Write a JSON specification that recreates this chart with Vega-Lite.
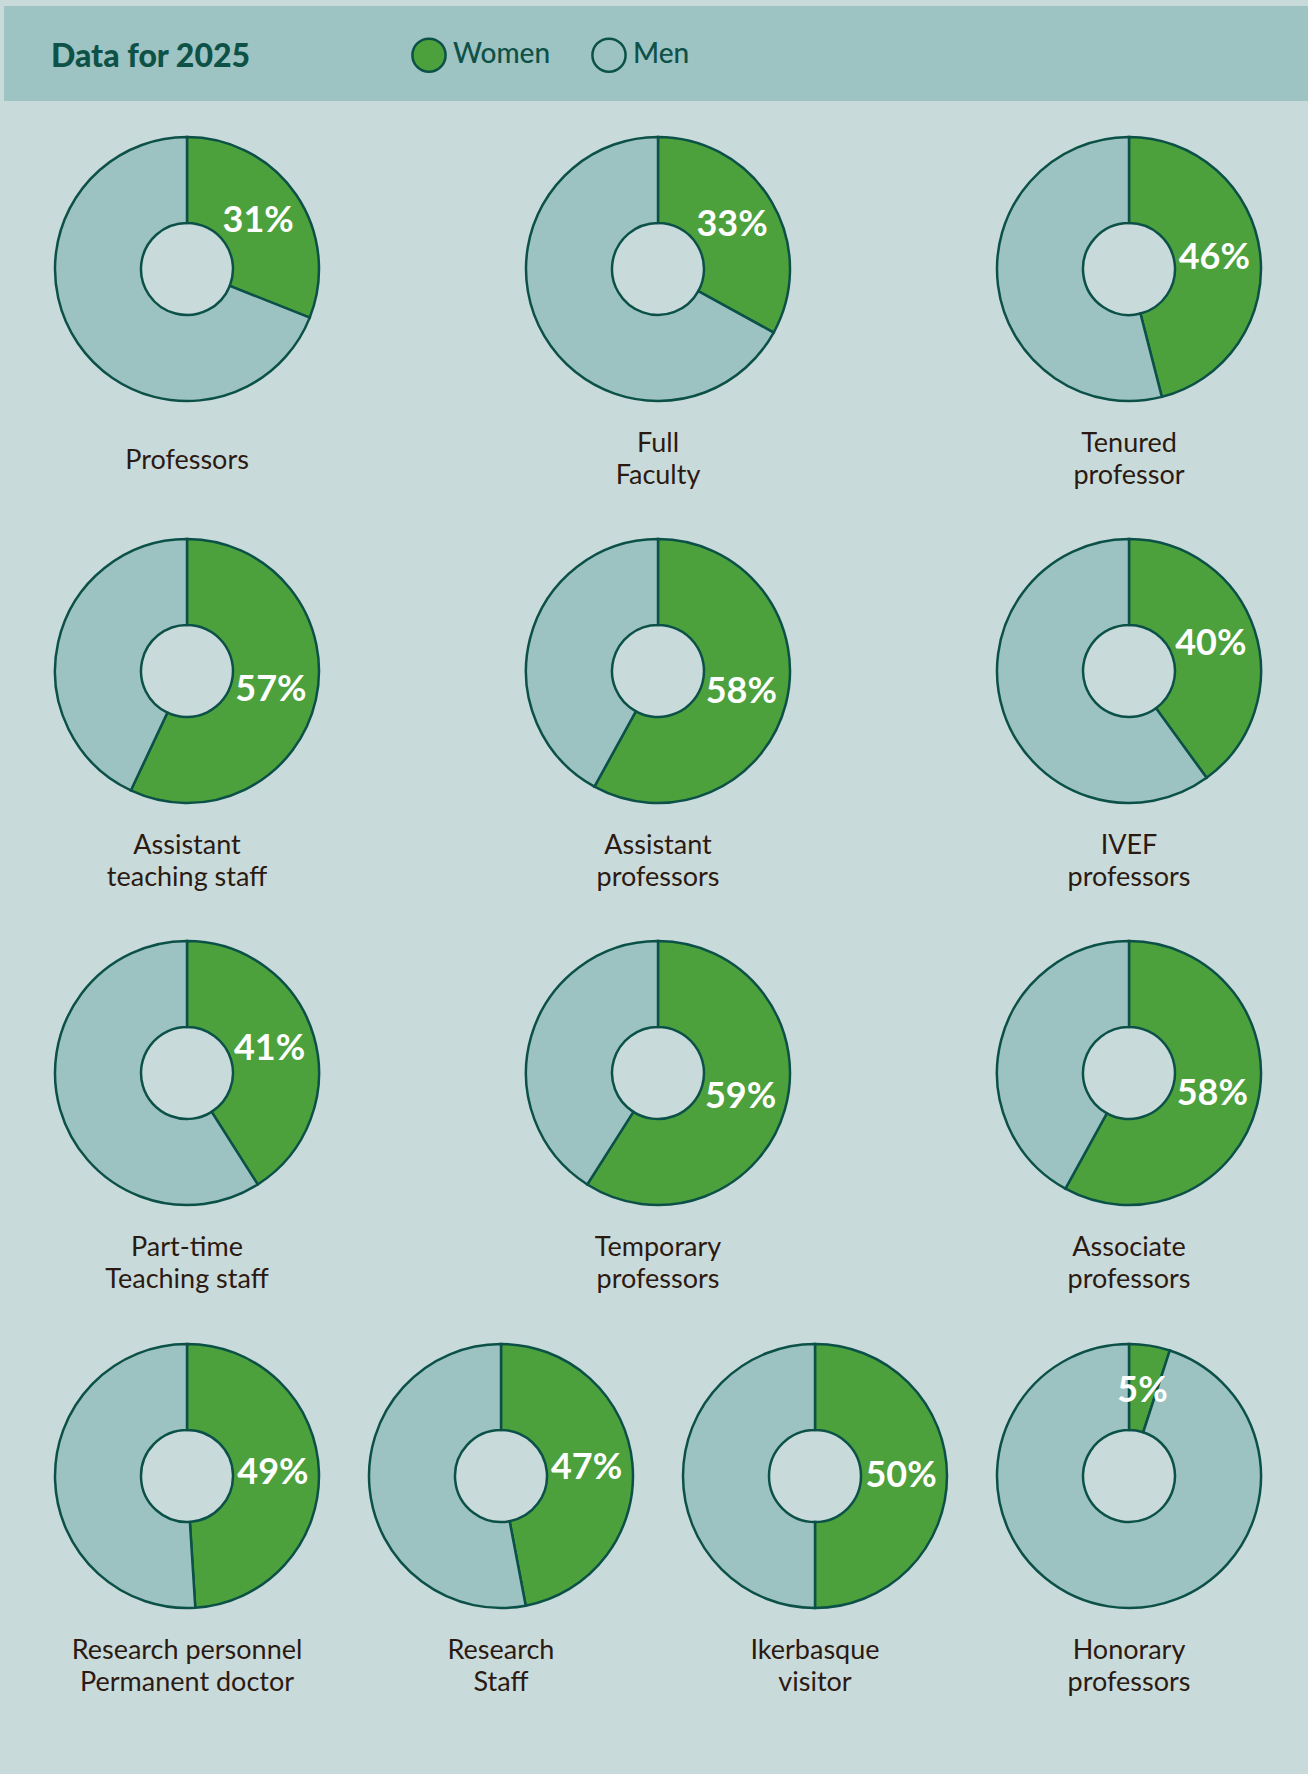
{
  "$schema": "https://vega.github.io/schema/vega-lite/v6.json",
  "background": "#c9dadb",
  "padding": {"left": 4, "top": 6, "right": 0, "bottom": 65},
  "config": {"view": {"stroke": null}, "font": "Lato"},
  "datasets": {
    "shares": [
      {"group": "A", "idx": 1, "category": "Professors", "label": "Professors", "gender": "Women", "share": 0.31},
      {"group": "A", "idx": 1, "category": "Professors", "label": "Professors", "gender": "Men", "share": 0.69},
      {"group": "A", "idx": 2, "category": "Full Faculty", "label": "Full\nFaculty", "gender": "Women", "share": 0.33},
      {"group": "A", "idx": 2, "category": "Full Faculty", "label": "Full\nFaculty", "gender": "Men", "share": 0.67},
      {"group": "A", "idx": 3, "category": "Tenured professor", "label": "Tenured\nprofessor", "gender": "Women", "share": 0.46},
      {"group": "A", "idx": 3, "category": "Tenured professor", "label": "Tenured\nprofessor", "gender": "Men", "share": 0.54},
      {"group": "A", "idx": 4, "category": "Assistant teaching staff", "label": "Assistant\nteaching staff", "gender": "Women", "share": 0.57},
      {"group": "A", "idx": 4, "category": "Assistant teaching staff", "label": "Assistant\nteaching staff", "gender": "Men", "share": 0.43},
      {"group": "A", "idx": 5, "category": "Assistant professors", "label": "Assistant\nprofessors", "gender": "Women", "share": 0.58},
      {"group": "A", "idx": 5, "category": "Assistant professors", "label": "Assistant\nprofessors", "gender": "Men", "share": 0.42},
      {"group": "A", "idx": 6, "category": "IVEF professors", "label": "IVEF\nprofessors", "gender": "Women", "share": 0.40},
      {"group": "A", "idx": 6, "category": "IVEF professors", "label": "IVEF\nprofessors", "gender": "Men", "share": 0.60},
      {"group": "A", "idx": 7, "category": "Part-time Teaching staff", "label": "Part-time\nTeaching staff", "gender": "Women", "share": 0.41},
      {"group": "A", "idx": 7, "category": "Part-time Teaching staff", "label": "Part-time\nTeaching staff", "gender": "Men", "share": 0.59},
      {"group": "A", "idx": 8, "category": "Temporary professors", "label": "Temporary\nprofessors", "gender": "Women", "share": 0.59},
      {"group": "A", "idx": 8, "category": "Temporary professors", "label": "Temporary\nprofessors", "gender": "Men", "share": 0.41},
      {"group": "A", "idx": 9, "category": "Associate professors", "label": "Associate\nprofessors", "gender": "Women", "share": 0.58},
      {"group": "A", "idx": 9, "category": "Associate professors", "label": "Associate\nprofessors", "gender": "Men", "share": 0.42},
      {"group": "B", "idx": 10, "category": "Research personnel Permanent doctor", "label": "Research personnel\nPermanent doctor", "gender": "Women", "share": 0.49},
      {"group": "B", "idx": 10, "category": "Research personnel Permanent doctor", "label": "Research personnel\nPermanent doctor", "gender": "Men", "share": 0.51},
      {"group": "B", "idx": 11, "category": "Research Staff", "label": "Research\nStaff", "gender": "Women", "share": 0.47},
      {"group": "B", "idx": 11, "category": "Research Staff", "label": "Research\nStaff", "gender": "Men", "share": 0.53},
      {"group": "B", "idx": 12, "category": "Ikerbasque visitor", "label": "Ikerbasque\nvisitor", "gender": "Women", "share": 0.50},
      {"group": "B", "idx": 12, "category": "Ikerbasque visitor", "label": "Ikerbasque\nvisitor", "gender": "Men", "share": 0.50},
      {"group": "B", "idx": 13, "category": "Honorary professors", "label": "Honorary\nprofessors", "gender": "Women", "share": 0.05},
      {"group": "B", "idx": 13, "category": "Honorary professors", "label": "Honorary\nprofessors", "gender": "Men", "share": 0.95}
    ]
  },
  "spacing": 0,
  "vconcat": [
    {
      "width": 1308,
      "height": 95,
      "data": {"values": [{"band": "header"}]},
      "mark": {"type": "rect", "color": "#9dc3c2"},
      "encoding": {}
    },
    {
      "data": {"name": "shares"},
      "transform": [{"filter": "datum.group == 'A'"}],
      "facet": {"field": "category", "type": "nominal", "sort": {"field": "idx", "op": "min"}, "header": {"labels": false, "labelExpr": "''", "labelPadding": 0, "labelFontSize": 1, "title": null}, "title": null},
      "columns": 3,
      "spacing": {"row": 0, "column": 105},
      "bounds": "flush",
      "spec": {
        "width": 366,
        "height": 402,
        "layer": [
          {
            "mark": {"type": "arc", "innerRadius": 46, "outerRadius": 132, "stroke": "#0c5148", "strokeWidth": 2.5, "yOffset": -34},
            "encoding": {
              "theta": {"field": "share", "type": "quantitative", "stack": true, "scale": {"domain": [0, 1]}},
              "color": {
                "field": "gender", "type": "nominal",
                "scale": {"domain": ["Women", "Men"], "range": ["#4ca13d", "#9cc3c2"]},
                "legend": {
                  "orient": "none", "legendX": 47, "legendY": 31, "direction": "horizontal",
                  "title": "Data for 2025", "titleOrient": "left", "titleAngle": 0, "titleFont": "Lato", "titleFontSize": 32, "titleFontWeight": 900, "titleColor": "#0d5147", "titlePadding": 160, "titleBaseline": "middle", "titleLimit": 400,
                  "symbolType": "circle", "symbolSize": 1100, "symbolStrokeColor": "#0c5148", "symbolStrokeWidth": 2.5, "symbolOpacity": 1,
                  "labelFont": "Lato", "labelFontSize": 28, "labelFontWeight": 500, "labelColor": "#0d5147", "labelOffset": 6, "columnPadding": 36, "padding": 0, "labelLimit": 300
                }
              },
              "order": {"field": "gender", "sort": "descending"}
            }
          },
          {
            "mark": {"type": "text", "radius": 86, "yOffset": -34, "font": "Lato", "fontSize": 36, "fontWeight": "bold", "color": "white", "align": "center", "baseline": "middle"},
            "encoding": {
              "theta": {"field": "share", "type": "quantitative", "stack": true},
              "detail": {"field": "gender", "type": "nominal"},
              "order": {"field": "gender", "sort": "descending"},
              "text": {"condition": {"test": "datum.gender == 'Men'", "value": ""}, "field": "share", "type": "quantitative", "format": ".0%"}
            }
          },
          {
            "transform": [{"filter": "datum.gender == 'Women' && indexof(datum.label, '\\n') >= 0"}],
            "mark": {"type": "text", "yOffset": 141, "lineBreak": "\n", "font": "Lato", "fontSize": 27, "lineHeight": 32, "color": "#2b1a12", "align": "center", "baseline": "middle"},
            "encoding": {"text": {"field": "label", "type": "nominal"}}
          },
          {
            "transform": [{"filter": "datum.gender == 'Women' && indexof(datum.label, '\\n') < 0"}],
            "mark": {"type": "text", "yOffset": 158, "font": "Lato", "fontSize": 27, "color": "#2b1a12", "align": "center", "baseline": "middle"},
            "encoding": {"text": {"field": "label", "type": "nominal"}}
          }
        ]
      }
    },
    {
      "data": {"name": "shares"},
      "transform": [{"filter": "datum.group == 'B'"}],
      "facet": {"field": "category", "type": "nominal", "sort": {"field": "idx", "op": "min"}, "header": {"labels": false, "labelExpr": "''", "labelPadding": 0, "labelFontSize": 1, "title": null}, "title": null},
      "columns": 4,
      "spacing": {"row": 0, "column": 0},
      "bounds": "flush",
      "spec": {
        "width": 314,
        "height": 402,
        "layer": [
          {
            "mark": {"type": "arc", "innerRadius": 46, "outerRadius": 132, "stroke": "#0c5148", "strokeWidth": 2.5, "xOffset": 26, "yOffset": -34},
            "encoding": {
              "theta": {"field": "share", "type": "quantitative", "stack": true, "scale": {"domain": [0, 1]}},
              "color": {
                "field": "gender", "type": "nominal",
                "scale": {"domain": ["Women", "Men"], "range": ["#4ca13d", "#9cc3c2"]},
                "legend": {
                  "orient": "none", "legendX": 47, "legendY": 31, "direction": "horizontal",
                  "title": "Data for 2025", "titleOrient": "left", "titleAngle": 0, "titleFont": "Lato", "titleFontSize": 32, "titleFontWeight": 900, "titleColor": "#0d5147", "titlePadding": 160, "titleBaseline": "middle", "titleLimit": 400,
                  "symbolType": "circle", "symbolSize": 1100, "symbolStrokeColor": "#0c5148", "symbolStrokeWidth": 2.5, "symbolOpacity": 1,
                  "labelFont": "Lato", "labelFontSize": 28, "labelFontWeight": 500, "labelColor": "#0d5147", "labelOffset": 6, "columnPadding": 36, "padding": 0, "labelLimit": 300
                }
              },
              "order": {"field": "gender", "sort": "descending"}
            }
          },
          {
            "mark": {"type": "text", "radius": 86, "xOffset": 26, "yOffset": -34, "font": "Lato", "fontSize": 36, "fontWeight": "bold", "color": "white", "align": "center", "baseline": "middle"},
            "encoding": {
              "theta": {"field": "share", "type": "quantitative", "stack": true},
              "detail": {"field": "gender", "type": "nominal"},
              "order": {"field": "gender", "sort": "descending"},
              "text": {"condition": {"test": "datum.gender == 'Men'", "value": ""}, "field": "share", "type": "quantitative", "format": ".0%"}
            }
          },
          {
            "transform": [{"filter": "datum.gender == 'Women'"}],
            "mark": {"type": "text", "xOffset": 26, "yOffset": 141, "lineBreak": "\n", "font": "Lato", "fontSize": 27, "lineHeight": 32, "color": "#2b1a12", "align": "center", "baseline": "middle"},
            "encoding": {"text": {"field": "label", "type": "nominal"}}
          }
        ]
      }
    }
  ]
}
